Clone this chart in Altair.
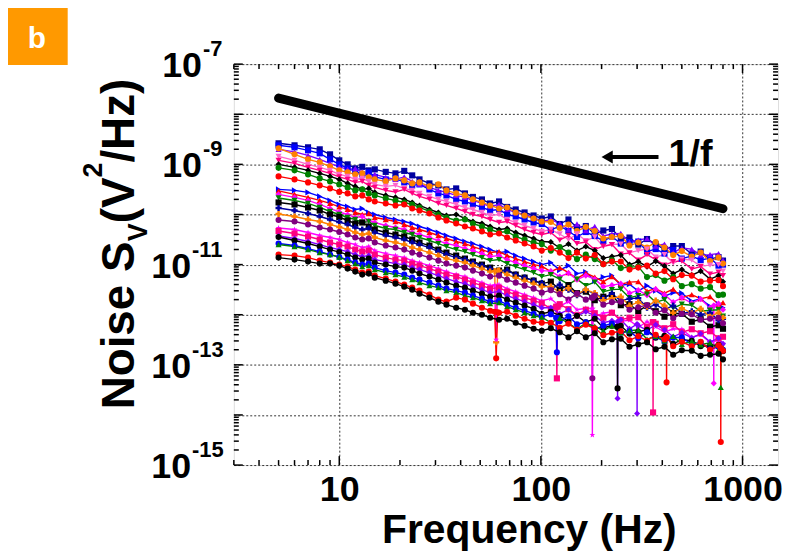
import altair as alt
import pandas as pd

FONT = "Liberation Sans"

FREQ = [5, 6, 7, 8, 9, 10, 11, 12, 13, 14, 15, 17, 19, 21, 23, 25, 28, 31, 34, 38, 42, 46,
        51, 56, 62, 68, 75, 83, 92, 101, 112, 124, 137, 151, 167, 185, 204, 225, 249, 275,
        304, 336, 371, 410, 453, 500, 560, 620, 690, 760, 800]

# log10 of S_V, one list per curve
S01 = [-8.58, -8.62, -8.66, -8.70, -8.80, -8.92, -9.00, -9.08, -9.05, -9.12, -9.10, -9.15, -9.18, -9.13, -9.22, -9.30, -9.38, -9.42, -9.50, -9.48, -9.58, -9.65, -9.70, -9.78, -9.74, -9.85, -9.90, -9.96, -10.02,
       -10.08, -10.04, -10.19, -10.10, -10.26, -10.23, -10.39, -10.32, -10.29, -10.48, -10.46, -10.60, -10.49, -10.59, -10.70, -10.63, -10.63, -10.79, -10.74, -10.89, -10.85, -10.92]
S02 = [-8.62, -8.66, -8.72, -8.78, -8.90, -9.00, -9.08, -9.14, -9.20, -9.16, -9.25, -9.30, -9.28, -9.36, -9.42, -9.40, -9.50, -9.58, -9.62, -9.70, -9.74, -9.80, -9.86, -9.92, -9.90, -10.00, -10.04, -10.10, -10.16,
       -10.19, -10.31, -10.23, -10.33, -10.45, -10.35, -10.43, -10.53, -10.44, -10.58, -10.55, -10.54, -10.74, -10.69, -10.78, -10.71, -10.88, -10.83, -10.91, -10.87, -11.02, -11.00]
S03 = [-8.70, -8.75, -8.82, -8.90, -8.98, -9.05, -9.10, -9.08, -9.15, -9.22, -9.20, -9.26, -9.30, -9.25, -9.34, -9.40, -9.46, -9.52, -9.56, -9.62, -9.66, -9.72, -9.78, -9.84, -9.80, -9.90, -9.96, -10.00, -10.06,
       -10.14, -10.10, -10.18, -10.30, -10.19, -10.32, -10.24, -10.43, -10.39, -10.38, -10.55, -10.51, -10.48, -10.63, -10.59, -10.76, -10.67, -10.69, -10.81, -10.80, -10.78, -10.91]
S04 = [-8.68, -8.80, -8.90, -8.96, -9.04, -9.12, -9.16, -9.20, -9.18, -9.26, -9.30, -9.34, -9.28, -9.32, -9.38, -9.36, -9.44, -9.40, -9.52, -9.58, -9.62, -9.70, -9.76, -9.82, -9.88, -9.86, -9.96, -10.02, -10.08,
       -10.14, -10.15, -10.27, -10.20, -10.33, -10.25, -10.33, -10.48, -10.45, -10.43, -10.62, -10.56, -10.66, -10.55, -10.66, -10.81, -10.73, -10.84, -10.76, -10.93, -10.86, -10.98]
S05 = [-8.84, -8.92, -9.00, -9.06, -9.12, -9.20, -9.24, -9.30, -9.28, -9.34, -9.40, -9.44, -9.42, -9.48, -9.52, -9.58, -9.64, -9.70, -9.74, -9.80, -9.86, -9.90, -9.96, -10.02, -10.00, -10.10, -10.16, -10.22, -10.28,
       -10.34, -10.30, -10.39, -10.50, -10.39, -10.52, -10.45, -10.64, -10.60, -10.59, -10.76, -10.72, -10.69, -10.85, -10.80, -10.97, -10.89, -10.91, -11.03, -11.01, -11.00, -11.13]
S06 = [-8.92, -8.98, -9.06, -9.12, -9.18, -9.25, -9.30, -9.36, -9.34, -9.42, -9.46, -9.52, -9.55, -9.50, -9.58, -9.64, -9.70, -9.78, -9.82, -9.88, -9.94, -10.00, -10.04, -10.10, -10.16, -10.14, -10.22, -10.30, -10.36,
       -10.40, -10.36, -10.51, -10.42, -10.58, -10.55, -10.70, -10.63, -10.60, -10.79, -10.77, -10.91, -10.80, -10.90, -11.01, -10.94, -10.93, -11.09, -11.04, -11.19, -11.15, -11.22]
S07 = [-9.00, -9.06, -9.12, -9.18, -9.24, -9.30, -9.38, -9.44, -9.50, -9.48, -9.56, -9.62, -9.66, -9.70, -9.76, -9.82, -9.90, -9.96, -10.02, -10.00, -10.08, -10.14, -10.18, -10.24, -10.30, -10.28, -10.36, -10.42, -10.48,
       -10.54, -10.55, -10.67, -10.59, -10.72, -10.64, -10.72, -10.87, -10.84, -10.81, -11.00, -10.94, -11.04, -10.93, -11.03, -11.18, -11.10, -11.21, -11.13, -11.29, -11.22, -11.34]
S08 = [-9.07, -9.12, -9.20, -9.28, -9.34, -9.40, -9.46, -9.52, -9.50, -9.58, -9.62, -9.68, -9.72, -9.76, -9.80, -9.86, -9.94, -10.00, -10.06, -10.12, -10.10, -10.18, -10.24, -10.30, -10.36, -10.34, -10.44, -10.50, -10.56,
       -10.59, -10.72, -10.65, -10.76, -10.89, -10.80, -10.89, -10.99, -10.91, -11.07, -11.05, -11.04, -11.25, -11.21, -11.32, -11.25, -11.43, -11.39, -11.48, -11.45, -11.61, -11.60]
S09 = [-9.24, -9.30, -9.36, -9.42, -9.48, -9.55, -9.58, -9.64, -9.62, -9.70, -9.74, -9.78, -9.82, -9.80, -9.88, -9.92, -9.98, -10.06, -10.12, -10.18, -10.24, -10.28, -10.34, -10.40, -10.38, -10.46, -10.52, -10.58, -10.64,
       -10.72, -10.67, -10.76, -10.87, -10.76, -10.88, -10.81, -10.99, -10.94, -10.94, -11.10, -11.06, -11.02, -11.18, -11.13, -11.29, -11.21, -11.22, -11.34, -11.32, -11.31, -11.43]
S10 = [-9.50, -9.52, -9.56, -9.64, -9.72, -9.80, -9.84, -9.90, -9.88, -9.96, -10.00, -10.06, -10.10, -10.14, -10.18, -10.24, -10.30, -10.36, -10.42, -10.48, -10.54, -10.58, -10.64, -10.70, -10.76, -10.74, -10.82, -10.88, -10.94,
       -11.00, -10.96, -11.11, -11.02, -11.18, -11.15, -11.32, -11.25, -11.22, -11.41, -11.39, -11.53, -11.42, -11.52, -11.63, -11.56, -11.57, -11.73, -11.68, -11.83, -11.79, -11.86]
S11 = [-9.53, -9.60, -9.66, -9.72, -9.78, -9.85, -9.90, -9.96, -10.00, -9.98, -10.06, -10.10, -10.14, -10.20, -10.26, -10.30, -10.36, -10.42, -10.48, -10.54, -10.58, -10.64, -10.70, -10.76, -10.74, -10.82, -10.88, -10.94, -11.00,
       -11.03, -11.14, -11.06, -11.16, -11.28, -11.17, -11.25, -11.34, -11.24, -11.39, -11.35, -11.34, -11.53, -11.48, -11.57, -11.49, -11.66, -11.60, -11.68, -11.64, -11.79, -11.76]
S12 = [-9.60, -9.66, -9.72, -9.80, -9.88, -9.95, -10.00, -10.06, -10.04, -10.12, -10.16, -10.22, -10.26, -10.30, -10.36, -10.40, -10.46, -10.52, -10.58, -10.62, -10.68, -10.72, -10.78, -10.84, -10.82, -10.90, -10.96, -11.02, -11.08,
       -11.12, -11.13, -11.24, -11.17, -11.30, -11.22, -11.29, -11.44, -11.41, -11.38, -11.57, -11.51, -11.61, -11.49, -11.60, -11.75, -11.66, -11.77, -11.69, -11.86, -11.78, -11.90]
S13 = [-9.67, -9.72, -9.78, -9.86, -9.94, -10.00, -10.06, -10.10, -10.16, -10.14, -10.22, -10.28, -10.30, -10.36, -10.40, -10.46, -10.52, -10.58, -10.64, -10.70, -10.74, -10.80, -10.86, -10.92, -10.90, -10.98, -11.04, -11.10, -11.16,
       -11.24, -11.20, -11.29, -11.40, -11.29, -11.42, -11.35, -11.54, -11.50, -11.49, -11.66, -11.62, -11.59, -11.75, -11.70, -11.87, -11.79, -11.81, -11.93, -11.91, -11.90, -12.03]
S14 = [-9.76, -9.80, -9.86, -9.92, -10.00, -10.05, -10.12, -10.18, -10.16, -10.24, -10.30, -10.36, -10.40, -10.44, -10.50, -10.56, -10.62, -10.70, -10.76, -10.82, -10.88, -10.94, -11.00, -11.06, -11.12, -11.10, -11.20, -11.26, -11.32,
       -11.38, -11.34, -11.50, -11.41, -11.57, -11.54, -11.71, -11.64, -11.61, -11.81, -11.79, -11.93, -11.82, -11.93, -12.04, -11.97, -11.98, -12.14, -12.09, -12.24, -12.21, -12.28]
S15 = [-9.87, -9.92, -9.98, -10.04, -10.10, -10.15, -10.20, -10.26, -10.30, -10.28, -10.36, -10.42, -10.46, -10.50, -10.56, -10.60, -10.66, -10.74, -10.80, -10.86, -10.90, -10.96, -11.02, -11.08, -11.14, -11.12, -11.20, -11.26, -11.32,
       -11.37, -11.48, -11.40, -11.50, -11.61, -11.51, -11.58, -11.67, -11.58, -11.72, -11.68, -11.67, -11.86, -11.80, -11.90, -11.82, -11.98, -11.93, -12.00, -11.96, -12.11, -12.08]
S16 = [-9.99, -10.04, -10.10, -10.14, -10.20, -10.25, -10.30, -10.36, -10.40, -10.38, -10.46, -10.52, -10.56, -10.60, -10.66, -10.70, -10.76, -10.82, -10.88, -10.92, -10.96, -11.02, -11.08, -11.14, -11.12, -11.20, -11.26, -11.32, -11.38,
       -11.44, -11.44, -11.55, -11.47, -11.59, -11.50, -11.57, -11.71, -11.67, -11.64, -11.82, -11.75, -11.84, -11.72, -11.82, -11.96, -11.87, -11.97, -11.88, -12.04, -11.96, -12.06]
S17 = [-10.11, -10.14, -10.20, -10.26, -10.30, -10.35, -10.40, -10.46, -10.50, -10.48, -10.56, -10.62, -10.66, -10.70, -10.76, -10.80, -10.86, -10.92, -10.98, -11.02, -11.06, -11.12, -11.18, -11.24, -11.22, -11.30, -11.36, -11.42, -11.48,
       -11.56, -11.51, -11.59, -11.70, -11.58, -11.70, -11.62, -11.80, -11.75, -11.74, -11.90, -11.85, -11.81, -11.96, -11.91, -12.07, -11.98, -11.99, -12.10, -12.08, -12.06, -12.17]
S18 = [-10.27, -10.30, -10.36, -10.42, -10.46, -10.50, -10.56, -10.60, -10.66, -10.64, -10.72, -10.78, -10.82, -10.86, -10.92, -10.96, -11.02, -11.08, -11.14, -11.20, -11.24, -11.30, -11.36, -11.42, -11.40, -11.48, -11.54, -11.60, -11.66,
       -11.72, -11.68, -11.83, -11.74, -11.90, -11.87, -12.04, -11.97, -11.94, -12.13, -12.11, -12.25, -12.14, -12.24, -12.35, -12.28, -12.29, -12.45, -12.40, -12.55, -12.51, -12.58]
S19 = [-10.33, -10.38, -10.44, -10.50, -10.56, -10.60, -10.64, -10.70, -10.74, -10.72, -10.80, -10.86, -10.90, -10.92, -10.98, -11.02, -11.08, -11.14, -11.20, -11.24, -11.30, -11.36, -11.42, -11.48, -11.46, -11.54, -11.60, -11.66, -11.72,
       -11.77, -11.88, -11.79, -11.89, -12.01, -11.90, -11.97, -12.06, -11.96, -12.10, -12.06, -12.05, -12.24, -12.18, -12.27, -12.19, -12.35, -12.29, -12.37, -12.33, -12.47, -12.44]
S20 = [-10.43, -10.48, -10.54, -10.60, -10.66, -10.70, -10.74, -10.80, -10.84, -10.82, -10.90, -10.94, -10.98, -11.00, -11.06, -11.10, -11.16, -11.22, -11.28, -11.34, -11.38, -11.44, -11.50, -11.56, -11.54, -11.62, -11.68, -11.74, -11.80,
       -11.86, -11.86, -11.98, -11.90, -12.03, -11.94, -12.02, -12.16, -12.12, -12.10, -12.28, -12.22, -12.31, -12.20, -12.30, -12.44, -12.36, -12.46, -12.38, -12.54, -12.47, -12.58]
S21 = [-10.45, -10.52, -10.58, -10.64, -10.70, -10.75, -10.80, -10.86, -10.90, -10.88, -10.96, -11.00, -11.04, -11.06, -11.12, -11.18, -11.24, -11.30, -11.36, -11.42, -11.46, -11.52, -11.58, -11.64, -11.62, -11.70, -11.76, -11.82, -11.88,
       -11.98, -11.94, -12.02, -12.14, -12.02, -12.15, -12.08, -12.26, -12.22, -12.22, -12.38, -12.34, -12.30, -12.46, -12.42, -12.58, -12.50, -12.52, -12.63, -12.62, -12.60, -12.73]
S22 = [-10.58, -10.62, -10.68, -10.74, -10.80, -10.85, -10.90, -10.96, -11.00, -10.98, -11.06, -11.12, -11.16, -11.20, -11.26, -11.30, -11.36, -11.42, -11.48, -11.52, -11.56, -11.62, -11.68, -11.74, -11.72, -11.80, -11.86, -11.92, -11.98,
       -12.04, -11.99, -12.13, -12.03, -12.19, -12.15, -12.30, -12.22, -12.18, -12.36, -12.33, -12.47, -12.35, -12.44, -12.54, -12.46, -12.45, -12.60, -12.55, -12.69, -12.64, -12.70]
S23 = [-10.60, -10.64, -10.70, -10.76, -10.80, -10.85, -10.92, -10.98, -11.04, -11.02, -11.10, -11.16, -11.20, -11.25, -11.30, -11.36, -11.42, -11.46, -11.52, -11.56, -11.62, -11.66, -11.72, -11.78, -11.76, -11.84, -11.90, -11.96, -12.02,
       -12.05, -12.16, -12.07, -12.17, -12.28, -12.17, -12.23, -12.32, -12.22, -12.36, -12.32, -12.30, -12.49, -12.43, -12.52, -12.43, -12.59, -12.53, -12.60, -12.56, -12.70, -12.66]
S24 = [-10.80, -10.82, -10.86, -10.92, -10.96, -11.00, -11.04, -11.10, -11.16, -11.14, -11.22, -11.28, -11.34, -11.40, -11.46, -11.52, -11.60, -11.70, -11.74, -11.66, -11.70, -11.78, -11.86, -11.92, -11.96, -11.94, -12.02, -12.08, -12.14,
       -12.16, -12.16, -12.26, -12.18, -12.30, -12.20, -12.27, -12.41, -12.36, -12.33, -12.51, -12.43, -12.52, -12.40, -12.49, -12.63, -12.54, -12.63, -12.54, -12.70, -12.61, -12.72]
S25 = [-10.86, -10.90, -10.94, -10.98, -10.98, -11.02, -11.08, -11.14, -11.20, -11.18, -11.26, -11.32, -11.38, -11.44, -11.50, -11.58, -11.66, -11.74, -11.80, -11.86, -11.90, -11.96, -12.00, -12.06, -12.10, -12.08, -12.16, -12.22, -12.28,
       -12.32, -12.27, -12.35, -12.45, -12.33, -12.45, -12.37, -12.55, -12.49, -12.48, -12.64, -12.59, -12.55, -12.69, -12.64, -12.80, -12.71, -12.72, -12.82, -12.80, -12.78, -12.89]

SERIES = [S01, S02, S03, S04, S05, S06, S07, S08, S09, S10, S11, S12, S13,
          S14, S15, S16, S17, S18, S19, S20, S21, S22, S23, S24, S25]

STAR = "M0,-1L0.24,-0.33L0.95,-0.31L0.38,0.12L0.59,0.81L0,0.4L-0.59,0.81L-0.38,0.12L-0.95,-0.31L-0.24,-0.33Z"

COLORS = ["#0000A0", "#0000FF", "#8000FF", "#FF8000", "#FF66CC", "#FF0080", "#000000",
          "#008000", "#FF0000", "#0000FF", "#FF0000", "#FF00FF", "#008000", "#000000",
          "#0000A0", "#FF8000", "#800080", "#FF00FF", "#FF0080", "#8000FF", "#000000",
          "#0000FF", "#008000", "#FF0000", "#000000"]
SHAPES = ["square", "square", "triangle-up", "circle", "triangle-down", "triangle-down",
          "diamond", "circle", "circle", "triangle-right", "triangle-up", "diamond",
          "triangle-down", "square", "cross", "cross", "circle", STAR, "square", "diamond",
          "circle", "circle", "triangle-up", "circle", "circle"]

# mains-frequency dips: (curve number, frequency, log10 S_V)
SPIKES = [
    (24, 59, -11.94), (24, 60, -12.87), (24, 61, -11.95),
    (16, 59, -11.13), (16, 60, -12.55), (16, 61, -11.13),
    (18, 59, -11.41), (18, 60, -12.50), (18, 61, -11.41),
    (19, 119, -11.84), (19, 120, -13.27), (19, 121, -11.84),
    (22, 119, -12.06), (22, 120, -12.75), (22, 121, -12.06),
    (18, 179, -11.88), (18, 180, -14.40), (18, 181, -11.88),
    (17, 179, -11.66), (17, 180, -13.27), (17, 181, -11.66),
    (21, 239, -12.24), (21, 240, -13.47), (21, 241, -12.24),
    (20, 239, -12.14), (20, 240, -13.67), (20, 241, -12.14),
    (20, 299, -12.19), (20, 300, -13.97), (20, 301, -12.19),
    (19, 359, -12.15), (19, 360, -13.95), (19, 361, -12.15),
    (24, 419, -12.45), (24, 420, -13.35), (24, 421, -12.45),
    (12, 719, -11.82), (12, 720, -13.37), (12, 721, -11.82),
    (23, 779, -12.68), (23, 780, -13.45), (23, 781, -12.68),
    (24, 779, -12.67), (24, 780, -14.54), (24, 781, -12.67),
]

ONE_F_FREQ = [5, 800]
ONE_F_VAL = [2.1e-8, 1.3e-10]
ARROW_FREQ = [217, 383]
ARROW_VAL = [1.4e-9, 1.4e-9]
ARROW_HEAD_FREQ = [213]
LABEL_1F_FREQ = [429]
LABEL_1F_VAL = [9.3e-10]

X_TICKS = [10, 100, 1000]
X_MINOR = [3, 4, 5, 6, 7, 8, 9, 20, 30, 40, 50, 60, 70, 80, 90,
           200, 300, 400, 500, 600, 700, 800, 900]
Y_DECADES = [1e-15, 1e-14, 1e-13, 1e-12, 1e-11, 1e-10, 1e-9, 1e-8, 1e-7]
Y_MINOR = [k * d for d in Y_DECADES[:-1] for k in range(2, 10)]
Y_LABEL_VALS = [1e-7, 1e-9, 1e-11, 1e-13, 1e-15]
Y_LABEL_EXP = ["-7", "-9", "-11", "-13", "-15"]

W, H = 547, 403

for i, s in enumerate(SERIES):
    if len(s) != len(FREQ):
        raise ValueError(f"series {i + 1} has {len(s)} values")

rows = []
for i, (vals, c, m) in enumerate(zip(SERIES, COLORS, SHAPES)):
    pts = list(zip(FREQ, vals)) + [(f, v) for (n, f, v) in SPIKES if n == i + 1]
    pts.sort()
    for f, v in pts:
        rows.append({"s": i, "f": f, "y": 10 ** v, "c": c, "m": m})
df = pd.DataFrame(rows)

xscale = alt.Scale(type="log", domain=[3, 1500], nice=False)
yscale = alt.Scale(type="log", domain=[1e-15, 1e-7], nice=False)
GRID = dict(grid=True, gridColor="#333333", gridDash=[2, 2], gridWidth=1,
            ticks=False, domain=False, title=None)
xaxis = alt.Axis(values=X_TICKS, format="d", labelFont=FONT, labelFontSize=36,
                 labelFontWeight="bold", labelColor="black", labelPadding=8,
                 labelOverlap=False, labelFlush=False, **GRID)
yaxis = alt.Axis(values=Y_DECADES, labels=False, **GRID)
X = alt.X("f:Q", scale=xscale, axis=xaxis)
Y = alt.Y("y:Q", scale=yscale, axis=yaxis)

lines = alt.Chart(df).mark_line(strokeWidth=1.4).encode(
    x=X, y=Y, color=alt.Color("c:N", scale=None), detail="s:N", order="f:Q")
points = alt.Chart(df).mark_point(filled=True, size=38, opacity=1).encode(
    x=X, y=Y, color=alt.Color("c:N", scale=None), shape=alt.Shape("m:N", scale=None))

one_f = alt.Chart(pd.DataFrame({"f": ONE_F_FREQ, "y": ONE_F_VAL})).mark_line(
    color="black", strokeWidth=9, strokeCap="round").encode(x=X, y=Y)
arrow = alt.Chart(pd.DataFrame({"f": ARROW_FREQ, "y": ARROW_VAL})).mark_line(
    color="black", strokeWidth=4).encode(x=X, y=Y)
head = alt.Chart(pd.DataFrame({"f": ARROW_HEAD_FREQ, "y": ARROW_VAL[:1]})).mark_point(
    shape="triangle-left", filled=True, size=170, color="black", opacity=1).encode(x=X, y=Y)
lab1f = alt.Chart(pd.DataFrame({"f": LABEL_1F_FREQ, "y": LABEL_1F_VAL})).mark_text(
    text="1/f", align="left", baseline="alphabetic", font=FONT, fontSize=38,
    fontWeight="bold", color="black").encode(x=X, y=Y)

# frame ticks pointing inward
dfx_maj = pd.DataFrame({"f": X_TICKS})
dfx_min = pd.DataFrame({"f": X_MINOR})
dfy_maj = pd.DataFrame({"y": Y_DECADES})
dfy_min = pd.DataFrame({"y": Y_MINOR})
tick_layers = []
for d, big in [(dfx_maj, 9), (dfx_min, 5)]:
    tick_layers.append(alt.Chart(d).mark_rule(color="black", strokeWidth=1.5).encode(
        x=X, y=alt.value(H), y2=alt.value(H - big)))
    tick_layers.append(alt.Chart(d).mark_rule(color="black", strokeWidth=1.5).encode(
        x=X, y=alt.value(0), y2=alt.value(big)))
for d, big in [(dfy_maj, 9), (dfy_min, 5)]:
    tick_layers.append(alt.Chart(d).mark_rule(color="black", strokeWidth=1.5).encode(
        y=Y, x=alt.value(0), x2=alt.value(big)))
    tick_layers.append(alt.Chart(d).mark_rule(color="black", strokeWidth=1.5).encode(
        y=Y, x=alt.value(W), x2=alt.value(W - big)))

# y tick labels 10^n
dfyl = pd.DataFrame({"y": Y_LABEL_VALS, "e": Y_LABEL_EXP})
ylab_layers = []
for cond, xten in [("length(datum.e) == 2", -32), ("length(datum.e) == 3", -43)]:
    base = alt.Chart(dfyl).transform_filter(cond)
    ylab_layers.append(base.mark_text(
        text="10", align="right", baseline="alphabetic", dy=13, font=FONT, fontSize=36,
        fontWeight="bold", color="black").encode(y=Y, x=alt.value(xten)))
    ylab_layers.append(base.mark_text(
        align="left", baseline="alphabetic", dy=-8, font=FONT, fontSize=22,
        fontWeight="bold", color="black").encode(y=Y, x=alt.value(xten + 1), text="e:N"))

one = pd.DataFrame({"a": [0]})


def txt(t, x, y, size, angle=0, align="left", color="black"):
    return alt.Chart(one).mark_text(
        text=t, align=align, baseline="alphabetic", angle=angle, font=FONT,
        fontSize=size, fontWeight="bold", color=color).encode(x=alt.value(x), y=alt.value(y))


# y title: Noise S_V(V^2/Hz), rotated
ytitle = [
    txt("Noise S", -100, 347, 46, angle=270),
    txt("V", -87, 178, 27, angle=270),
    txt("(V", -100, 160, 46, angle=270),
    txt("2", -133, 114, 27, angle=270),
    txt("/Hz)", -100, 99, 46, angle=270),
]
xtitle = txt("Frequency (Hz)", 297, 481, 41, align="center")

badge = alt.Chart(one).mark_rect(color="#FF9900").encode(
    x=alt.value(-228), x2=alt.value(-167), y=alt.value(-58), y2=alt.value(1))
badge_t = txt("b", -198, -16, 30, align="center", color="white")

chart = alt.layer(
    lines, points, one_f, arrow, head, lab1f, *tick_layers, *ylab_layers,
    *ytitle, xtitle, badge, badge_t
).properties(
    width=W, height=H,
    autosize=alt.AutoSizeParams(type="none"),
    padding={"left": 227, "top": 55, "right": 8, "bottom": 92},
).configure_view(stroke="black", strokeWidth=2).configure(background="white")

chart.save("out.html", embed_options={"renderer": "svg", "actions": False})
